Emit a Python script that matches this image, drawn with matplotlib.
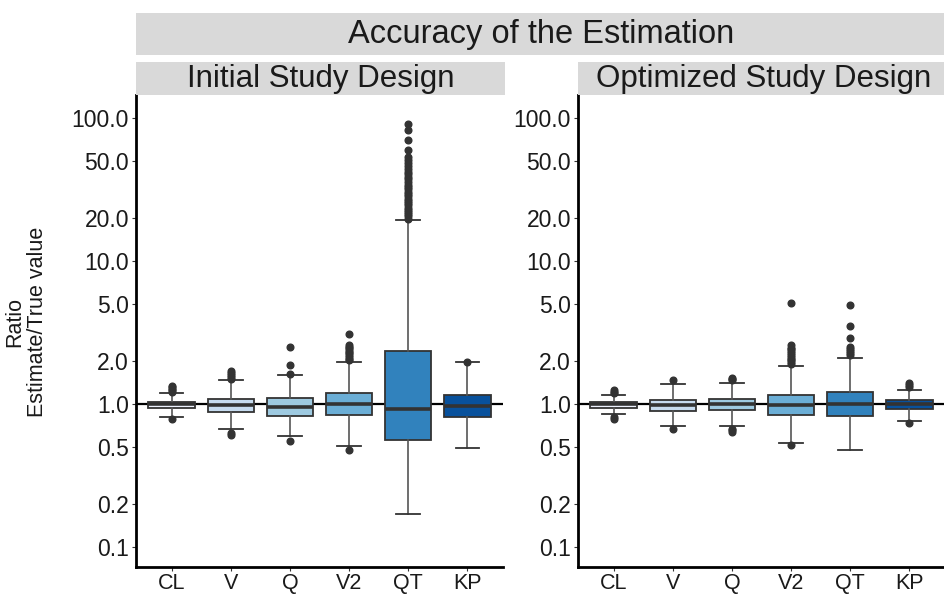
import numpy as np
import matplotlib.pyplot as plt
from matplotlib.patches import Rectangle

plt.rcParams['font.family'] = ['Liberation Sans', 'DejaVu Sans']

params = ['CL', 'V', 'Q', 'V2', 'QT', 'KP']
colors = ['#eff3ff', '#c6dbef', '#9ecae1', '#6baed6', '#3182bd', '#08519c']
yticks = [0.1, 0.2, 0.5, 1.0, 2.0, 5.0, 10.0, 20.0, 50.0, 100.0]

# box summaries per parameter: (whislo, q1, med, q3, whishi)
initial_stats = [
    (0.81, 0.94, 1.0, 1.035, 1.2),
    (0.665, 0.875, 0.985, 1.085, 1.47),
    (0.60, 0.83, 0.953, 1.096, 1.60),
    (0.508, 0.834, 0.995, 1.19, 1.98),
    (0.17, 0.557, 0.923, 2.34, 19.4),
    (0.49, 0.815, 0.963, 1.156, 1.96),
]
initial_fliers = [
    [1.22, 1.25, 1.28, 1.31, 1.34, 0.78],
    [1.5, 1.55, 1.6, 1.65, 1.7, 0.63, 0.61],
    [1.62, 1.88, 2.52, 0.55],
    [2.02, 2.08, 2.14, 2.2, 2.26, 2.32, 2.38, 2.45, 2.52, 2.58, 3.07, 0.48],
    [19.8, 20.5, 21.2, 22.0, 22.8, 23.6, 24.5, 25.4, 26.3, 27.3, 28.3,
     29.4, 30.5, 31.7, 33.0, 34.3, 35.7, 37.2, 38.8, 40.5, 42.3, 44.2,
     46.2, 48.5, 51.0, 53.6, 59.8, 70.0, 82.0, 90.6],
    [1.97],
]

optimized_stats = [
    (0.855, 0.942, 1.0, 1.037, 1.156),
    (0.70, 0.898, 0.99, 1.072, 1.37),
    (0.70, 0.908, 1.0, 1.089, 1.41),
    (0.53, 0.842, 0.984, 1.16, 1.86),
    (0.477, 0.82, 1.0, 1.207, 2.11),
    (0.765, 0.927, 1.0, 1.06, 1.25),
]
optimized_fliers = [
    [1.19, 1.22, 1.25, 0.807, 0.78],
    [1.47, 0.665],
    [1.47, 1.5, 1.53, 0.67, 0.655, 0.64],
    [1.9, 1.96, 2.02, 2.08, 2.14, 2.2, 2.27, 2.34, 2.41, 2.48, 2.58, 5.06, 0.517],
    [2.2, 2.28, 2.36, 2.44, 2.52, 2.88, 3.51, 4.93],
    [1.32, 1.36, 1.40, 0.733],
]

W, H = 944, 597
fig = plt.figure(figsize=(W / 100, H / 100), dpi=100)

def px(x0, y0, x1, y1):
    return [x0 / W, 1 - y1 / H, (x1 - x0) / W, (y1 - y0) / H]

strip_color = '#d9d9d9'

def draw_panel(rect, stats, fliers, title, strip_x):
    ax = fig.add_axes(rect)
    bxp_stats = []
    for (lo, q1, med, q3, hi), fl in zip(stats, fliers):
        bxp_stats.append(dict(whislo=lo, q1=q1, med=med, q3=q3, whishi=hi,
                              fliers=fl))
    ax.axhline(1.0, color='black', lw=1.6, zorder=1)
    pos = np.arange(1, len(params) + 1)
    res = ax.bxp(bxp_stats, positions=pos, widths=0.78, capwidths=0.4,
                 patch_artist=True,
                 boxprops=dict(edgecolor='#333333', linewidth=1.3),
                 medianprops=dict(color='#333333', linewidth=2.6),
                 whiskerprops=dict(color='#555555', linewidth=1.2),
                 capprops=dict(color='#333333', linewidth=1.3),
                 flierprops=dict(marker='o', markerfacecolor='#333333',
                                 markeredgecolor='#333333', markersize=4.8))
    for patch, c in zip(res['boxes'], colors):
        patch.set_facecolor(c)
        patch.set_zorder(2)
    ax.set_yscale('log')
    ax.set_ylim(0.0725, 145)
    ax.set_xlim(0.4, 6.6)
    ax.set_yticks(yticks)
    ax.set_yticklabels(['%.1f' % v for v in yticks])
    ax.minorticks_off()
    ax.set_xticks(pos)
    ax.set_xticklabels(params)
    ax.tick_params(labelsize=16.5, colors='#333333', labelcolor='#1a1a1a',
                   length=3, width=0.8, pad=2)
    ax.tick_params(axis='x', labelsize=15.5, pad=1)
    for side in ['top', 'right']:
        ax.spines[side].set_visible(False)
    for side in ['left', 'bottom']:
        ax.spines[side].set_linewidth(2)
        ax.spines[side].set_color('black')
    # facet strip
    fig.patches.append(Rectangle((strip_x[0] / W, 1 - 95 / H),
                                 (strip_x[1] - strip_x[0]) / W, 33 / H,
                                 transform=fig.transFigure,
                                 facecolor=strip_color, edgecolor='none'))
    fig.text((strip_x[0] + strip_x[1]) / 2 / W, 1 - 79 / H, title,
             ha='center', va='center', fontsize=22.5, color='#1a1a1a')
    return ax

draw_panel(px(136, 95, 503, 567), initial_stats, initial_fliers,
           'Initial Study Design', (136, 505))
draw_panel(px(578, 95, 945, 567), optimized_stats, optimized_fliers,
           'Optimized Study Design', (578, 950))

# overall strip
fig.patches.append(Rectangle((136 / W, 1 - 55 / H), (950 - 136) / W, 42 / H,
                             transform=fig.transFigure,
                             facecolor=strip_color, edgecolor='none'))
fig.text(541 / W, 1 - 35 / H, 'Accuracy of the Estimation', ha='center',
         va='center', fontsize=23.5, color='#1a1a1a')

fig.text(26 / W, 1 - 322 / H, 'Ratio\nEstimate/True value', rotation=90,
         ha='center', va='center', fontsize=15.5, color='#1a1a1a',
         linespacing=1.1)

fig.savefig('out.png', dpi=100)
